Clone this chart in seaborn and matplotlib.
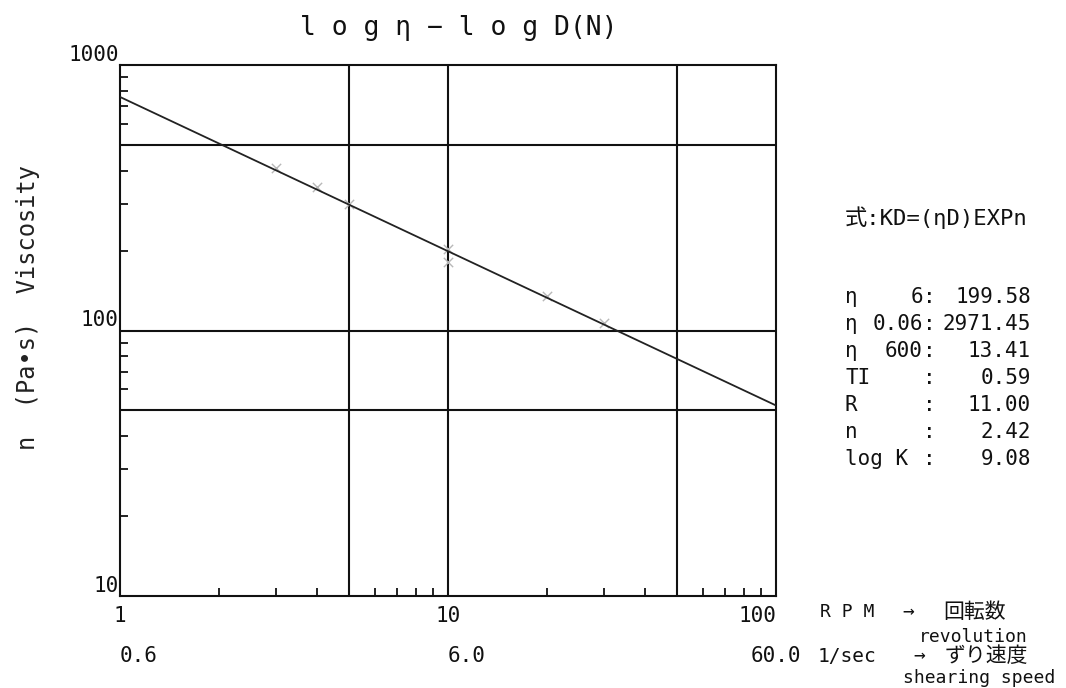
import matplotlib
matplotlib.use("Agg")
import matplotlib.pyplot as plt
import matplotlib.ticker as mticker
import seaborn as sns

# Data
rpm_fit = [1, 100]
visc_fit = [758, 52.2]
rpm_meas = [3, 4, 5, 10, 10, 20, 30]
visc_meas = [408, 346, 300, 202, 181, 135, 107]

grid_rpm = [5, 10, 50]
grid_visc = [50, 100, 500]
rpm_ticks = [1, 10, 100]
rpm_labels = ["1", "10", "100"]
shear_ticks = [0.6, 6.0, 60.0]
shear_labels = ["0.6", "6.0", "60.0"]
visc_ticks = [10, 100, 1000]
visc_labels = ["10", "100", "1000"]

stat_names = ["η", "η", "η", "TI", "R", "n", "log K"]
stat_subs = ["6", "0.06", "600", "", "", "", ""]
stat_values = ["199.58", "2971.45", "13.41", "0.59", "11.00", "2.42", "9.08"]

RPM_TO_SHEAR = 0.6
W, H = 1066, 688

sns.set_style("white")
plt.rcParams["font.family"] = ["DejaVu Sans Mono", "Noto Sans CJK JP"]
plt.rcParams["axes.linewidth"] = 1.5


def fx(px):
    return px / W


def fy(py):
    return 1 - py / H


fig = plt.figure(figsize=(W / 100, H / 100), dpi=100)
ax = fig.add_axes([fx(120), fy(596), fx(776) - fx(120), fy(65) - fy(596)])
ax.set_xscale("log")
ax.set_yscale("log")

# grid lines
for g in grid_rpm:
    ax.axvline(g, color="#111111", linewidth=1.5, zorder=1)
for g in grid_visc:
    ax.axhline(g, color="#111111", linewidth=1.5, zorder=1)

sns.scatterplot(x=rpm_meas, y=visc_meas, ax=ax, marker="x", color="#b8b8b8",
                s=45, linewidth=1.0, zorder=2)
sns.lineplot(x=rpm_fit, y=visc_fit, ax=ax, color="#222222", linewidth=1.3, zorder=3)

ax.set_xlim(1, 100)
ax.set_ylim(10, 1000)
for s in ax.spines.values():
    s.set_color("#111111")
    s.set_linewidth(1.5)

# ticks
ax.set_xticks(rpm_ticks, labels=rpm_labels)
ax.set_yticks(visc_ticks, labels=visc_labels)
ax.xaxis.set_minor_locator(mticker.LogLocator(base=10, subs=range(2, 10), numticks=20))
ax.yaxis.set_minor_locator(mticker.LogLocator(base=10, subs=range(2, 10), numticks=20))
ax.xaxis.set_minor_formatter(mticker.NullFormatter())
ax.yaxis.set_minor_formatter(mticker.NullFormatter())
ax.tick_params(which="major", length=0, labelsize=15, colors="#111111")
ax.tick_params(axis="x", which="major", pad=7)
ax.tick_params(axis="y", which="major", pad=1)
ax.tick_params(which="minor", direction="in", length=6, width=1.3,
               bottom=True, left=True, top=False, right=False, color="#111111")
for lbl in ax.get_yticklabels():
    lbl.set_va("bottom")
ax.get_xticklabels()[-1].set_ha("right")

# second scale: shear rate in 1/sec
secax = ax.secondary_xaxis("bottom", functions=(lambda r: r * RPM_TO_SHEAR,
                                                 lambda s: s / RPM_TO_SHEAR))
secax.set_xticks(shear_ticks, labels=shear_labels)
secax.xaxis.set_minor_locator(mticker.NullLocator())
secax.spines["bottom"].set_visible(False)
secax.tick_params(which="both", length=0, pad=36, labelsize=15, colors="#111111")
sl = secax.get_xticklabels()
sl[0].set_ha("left")
sl[1].set_ha("left")

ax.set_xlabel("")
ax.set_ylabel("n  (Pa•s)  Viscosity", fontsize=17, color="#222222")
ax.yaxis.set_label_coords((40 - 120) / 656, (596 - 307) / 531)

# title
fig.text(fx(459), fy(28), "l o g η − l o g D(N)", fontsize=19,
         ha="center", va="center", color="#111111")

# formula and statistics
fig.text(fx(845), fy(218), "式:KD=(ηD)EXPn", fontsize=16, ha="left", va="center",
         color="#111111")
for i, (name, sub, val) in enumerate(zip(stat_names, stat_subs, stat_values)):
    y = fy(297 + 27 * i)
    fig.text(fx(845), y, name, fontsize=15, ha="left", va="center", color="#111111")
    if sub:
        fig.text(fx(923), y, sub, fontsize=15, ha="right", va="center", color="#111111")
    fig.text(fx(929), y, ":", fontsize=15, ha="center", va="center", color="#111111")
    fig.text(fx(1031), y, val, fontsize=15, ha="right", va="center", color="#111111")

# axis legends at bottom right
fig.text(fx(820), fy(612), "R P M", fontsize=13, ha="left", va="center", color="#111111")
fig.text(fx(908), fy(612), "→", fontsize=14, ha="center", va="center", color="#111111")
fig.text(fx(943), fy(612), "回転数", fontsize=15, ha="left", va="center", color="#111111")
fig.text(fx(919), fy(637), "revolution", fontsize=13, ha="left", va="center", color="#111111")
fig.text(fx(818), fy(656), "1/sec", fontsize=14, ha="left", va="center", color="#111111")
fig.text(fx(919), fy(656), "→", fontsize=14, ha="center", va="center", color="#111111")
fig.text(fx(945), fy(656), "ずり速度", fontsize=15, ha="left", va="center", color="#111111")
fig.text(fx(903), fy(678), "shearing speed", fontsize=13, ha="left", va="center",
         color="#111111")

fig.savefig("out.png", dpi=100)
plt.close(fig)
